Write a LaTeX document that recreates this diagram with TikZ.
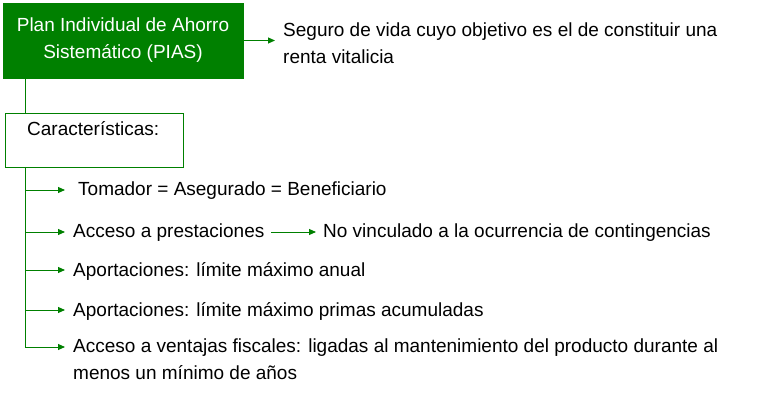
\documentclass[tikz,border=0pt]{standalone}
\usepackage{fontspec}
\setmainfont{Liberation Sans}
\usetikzlibrary{arrows.meta}
\definecolor{pgreen}{RGB}{0,128,0}
\begin{document}
\begin{tikzpicture}[x=1pt,y=-1pt,
  conn/.style={pgreen,line width=0.9pt},
  arr/.style={conn,-{Triangle[length=7pt,width=6pt]}},
  lbl/.style={anchor=west,inner sep=0pt,font=\fontsize{19}{27}\selectfont,align=left}]
\useasboundingbox (0,0) rectangle (768,414);
\node[fill=pgreen,draw=pgreen,minimum width=240,minimum height=75,inner sep=0,text=white,align=center,font=\fontsize{19}{27}\selectfont] (pias) at (123,40.5) {Plan Individual de Ahorro\\Sistemático (PIAS)};
\node[lbl] (seg) at (283,43) {Seguro de vida cuyo objetivo es el de constituir una\\renta vitalicia};
\coordinate (pe) at (275,40.5);
\draw[arr] (pias.east) -- (pe);
\node[draw=pgreen,line width=0.9pt,minimum width=178,minimum height=54,inner sep=0] (car) at (94,140) {};
\node[lbl,anchor=north west] (cart) at (27,121) {Características:};
\draw[conn] (pias.south -| 25,0) -- (car.north -| 25,0);
\coordinate (top) at (25,167);
\coordinate (bot) at (25,347);
\draw[conn] (top) -- (bot);
\node[lbl] (t1) at (78,191) {Tomador = Asegurado = Beneficiario};
\node[lbl] (t2) at (73,233) {Acceso a prestaciones};
\node[lbl] (t2b) at (323,233) {No vinculado a la ocurrencia de contingencias};
\node[lbl] (t3) at (73,271) {Aportaciones: límite máximo anual};
\node[lbl] (t4) at (73,311) {Aportaciones: límite máximo primas acumuladas};
\node[lbl,anchor=north west] (t5) at (73,339) {Acceso a ventajas fiscales: ligadas al mantenimiento del producto durante al\\menos un mínimo de años};
\foreach \y/\n in {190/a,232/b,270/c,310/d,347/e}{
  \coordinate (s\n) at (25,\y);
  \coordinate (e\n) at (65,\y);
  \draw[arr] (s\n) -- (e\n);
}
\coordinate (m1) at (271,232);
\coordinate (m2) at (316,232);
\draw[arr] (m1) -- (m2);
\end{tikzpicture}
\end{document}
